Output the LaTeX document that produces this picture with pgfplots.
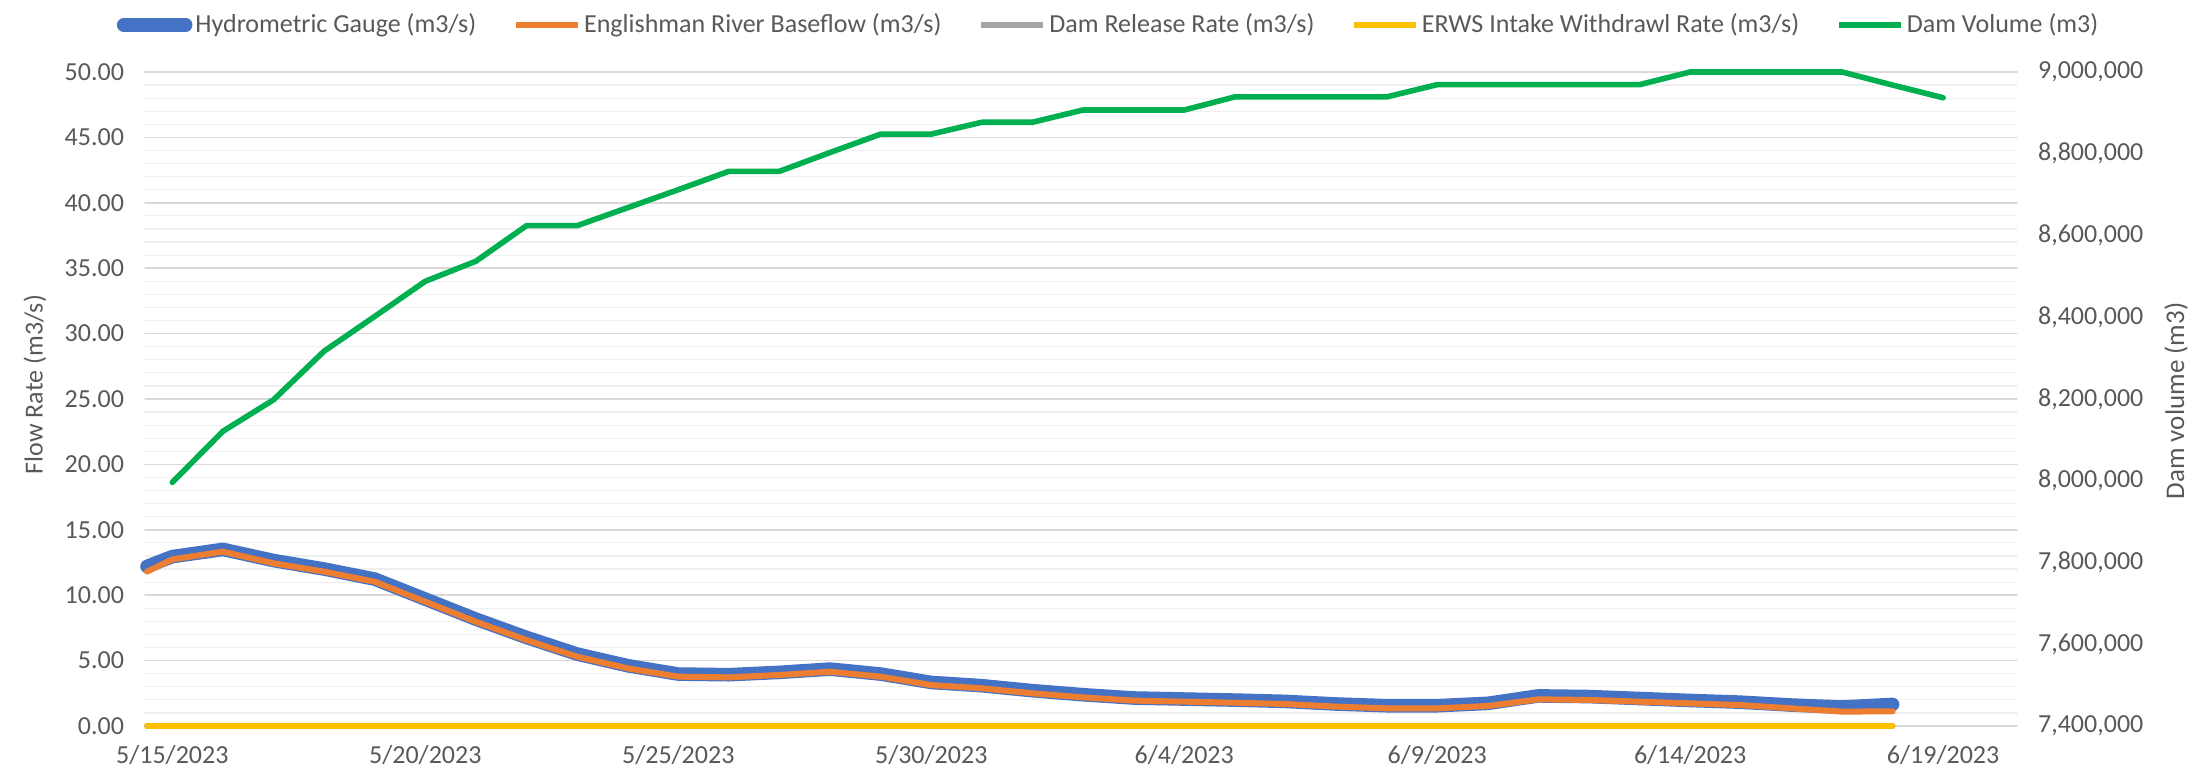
\documentclass[border=0pt]{standalone}
\usepackage{pgfplots}
\usepackage{pgfplotstable}
\pgfplotsset{compat=1.18}
\usepackage{fontspec}
\setmainfont{Carlito}
\definecolor{cBlue}{HTML}{4472C4}
\definecolor{cOrange}{HTML}{ED7D31}
\definecolor{cGray}{HTML}{A5A5A5}
\definecolor{cYellow}{HTML}{FFC000}
\definecolor{cGreen}{HTML}{00B050}
\definecolor{cText}{HTML}{595959}
\definecolor{gridMajor}{HTML}{D9D9D9}
\definecolor{gridMinor}{HTML}{EFEFEF}

\pgfplotstableread{
day gauge base release intake
-0.5 12.20 11.80 0 0
0 12.95 12.74 0 0
1 13.50 13.33 0 0
2 12.65 12.44 0 0
3 12.00 11.80 0 0
4 11.23 11.03 0 0
5 9.70 9.50 0 0
6 8.17 7.97 0 0
7 6.77 6.57 0 0
8 5.50 5.30 0 0
9 4.61 4.41 0 0
10 3.97 3.77 0 0
11 3.92 3.72 0 0
12 4.10 3.90 0 0
13 4.35 4.15 0 0
14 3.97 3.77 0 0
15 3.33 3.13 0 0
16 3.08 2.88 0 0
17 2.70 2.50 0 0
18 2.39 2.19 0 0
19 2.14 1.94 0 0
20 2.06 1.86 0 0
21 1.98 1.78 0 0
22 1.88 1.68 0 0
23 1.68 1.48 0 0
24 1.55 1.35 0 0
25 1.55 1.35 0 0
26 1.73 1.53 0 0
27 2.30 2.04 0 0
28 2.25 1.99 0 0
29 2.10 1.86 0 0
30 1.95 1.73 0 0
31 1.82 1.60 0 0
32 1.60 1.35 0 0
33 1.45 1.10 0 0
34 1.65 1.12 0 0
}\flowdata

\pgfplotstableread{
day vol
0 7996000
1 8121000
2 8198000
3 8317000
4 8402000
5 8488000
6 8537000
7 8624000
8 8624000
9 8668000
10 8712000
11 8757000
12 8757000
13 8803000
14 8848000
15 8848000
16 8877000
17 8877000
18 8907000
19 8907000
20 8907000
21 8939000
22 8939000
23 8939000
24 8939000
25 8969000
26 8969000
27 8969000
28 8969000
29 8969000
30 9000000
31 9000000
32 9000000
33 9000000
34 8968000
35 8937000
}\voldata

\begin{document}
\begin{tikzpicture}
\useasboundingbox (0,0) rectangle (1099pt,387pt);
\begin{axis}[
  at={(72.5pt,24pt)}, anchor=south west,
  scale only axis, width=936pt, height=327pt,
  xmin=-0.54, xmax=36.46, ymin=0, ymax=50,
  clip=false,
  xtick={0,5,...,35},
  xticklabels={5/15/2023,5/20/2023,5/25/2023,5/30/2023,6/4/2023,6/9/2023,6/14/2023,6/19/2023},
  ytick={0,5,...,50},
  minor y tick num=4,
  ymajorgrids, yminorgrids,
  major grid style={draw=gridMajor, line width=0.75pt},
  minor grid style={draw=gridMinor, line width=0.6pt},
  axis line style={draw=none},
  major tick length=0pt, minor tick length=0pt,
  tick style={draw=none},
  tick label style={font=\fontsize{13}{15}\selectfont, text=cText},
  yticklabel={\pgfmathprintnumber[fixed,fixed zerofill,precision=2,assume math mode=true]{\tick}},
  yticklabel style={anchor=east, xshift=-7pt},
  xticklabel style={anchor=north, yshift=-6pt},
  ylabel={Flow Rate (m3/s)},
  ylabel style={at={(rel axis cs:-0.0588,0.522)}, anchor=center, font=\fontsize{13}{15}\selectfont, text=cText},
  legend columns=-1,
  legend style={at={(rel axis cs:0.515,1.0719)}, anchor=center, draw=none, fill=none,
    font=\fontsize{13}{15}\selectfont, text=cText,
    /tikz/every even column/.append style={column sep=17pt},
    nodes={inner sep=1.5pt}},
  legend image code/.code={\draw[#1] (0pt,0pt) -- (31pt,0pt);},
  line cap=round, line join=round,
]
\addplot[cBlue, line width=6.8pt, line cap=round] table[x=day, y=gauge] {\flowdata};
\addlegendentry{Hydrometric Gauge (m3/s)}
\addplot[cOrange, line width=3pt] table[x=day, y=base] {\flowdata};
\addlegendentry{Englishman River Baseflow (m3/s)}
\addplot[cGray, line width=3pt] table[x=day, y=release] {\flowdata};
\addlegendentry{Dam Release Rate (m3/s)}
\addplot[cYellow, line width=2.7pt] table[x=day, y=intake] {\flowdata};
\addlegendentry{ERWS Intake Withdrawl Rate (m3/s)}
\addlegendimage{cGreen, line width=2.8pt}
\addlegendentry{Dam Volume (m3)}
\end{axis}
\begin{axis}[
  at={(72.5pt,24pt)}, anchor=south west,
  scale only axis, width=936pt, height=327pt,
  xmin=-0.54, xmax=36.46, ymin=7400000, ymax=9000000,
  clip=false,
  axis x line=none, axis y line*=right,
  axis line style={draw=none},
  ytick={7400000,7600000,7800000,8000000,8200000,8400000,8600000,8800000,9000000},
  scaled y ticks=false,
  major tick length=0pt, minor tick length=0pt,
  tick style={draw=none},
  tick label style={font=\fontsize{13}{15}\selectfont, text=cText},
  yticklabel={\pgfmathprintnumber[fixed,precision=0,1000 sep={,},assume math mode=true]{\tick}},
  yticklabel style={anchor=west, xshift=7pt},
  ylabel={Dam volume (m3)},
  ylabel style={at={(rel axis cs:1.085,0.497)}, anchor=center, rotate=0, font=\fontsize{13.5}{15}\selectfont, text=cText},
  line cap=round, line join=round,
]
\addplot[cGreen, line width=2.8pt] table[x=day, y=vol] {\voldata};
\end{axis}
\end{tikzpicture}
\end{document}
